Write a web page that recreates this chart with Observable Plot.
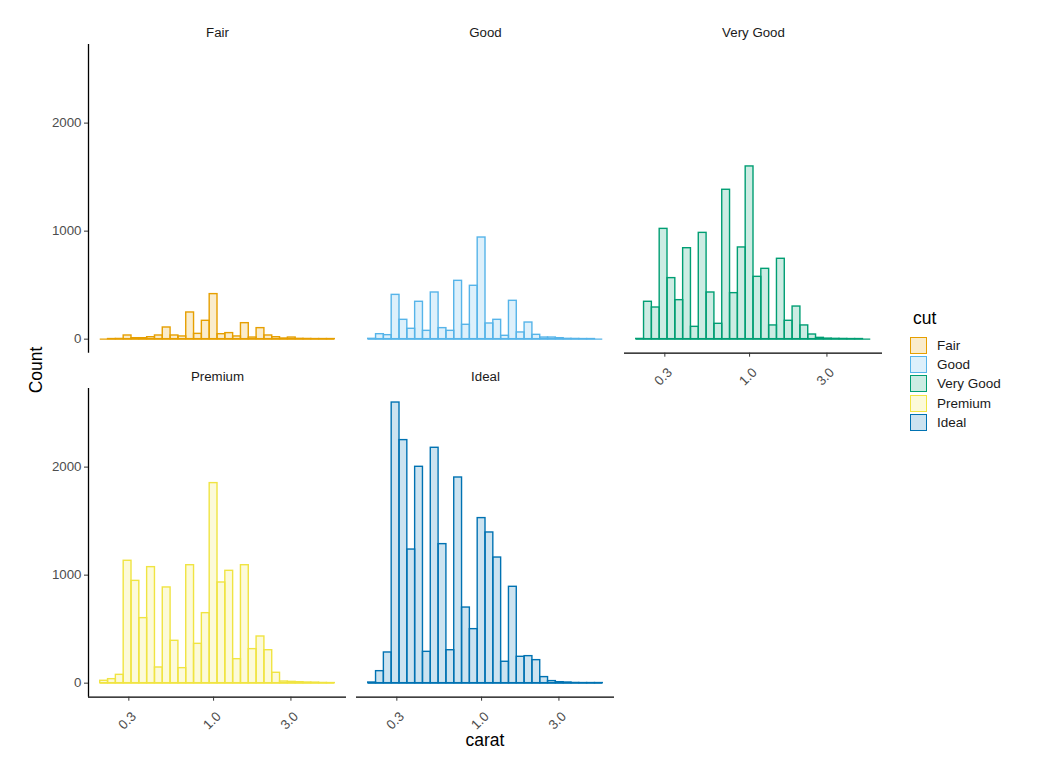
<!DOCTYPE html>
<html><head><meta charset="utf-8">
<script src="https://cdn.jsdelivr.net/npm/d3@7"></script>
<script src="https://cdn.jsdelivr.net/npm/@observablehq/plot@0.6"></script>
<style>
body{margin:0;background:#fff;font-family:"Liberation Sans",Arial,sans-serif;}
#chart{position:relative;width:1041px;height:758px;overflow:hidden;}
.panel{position:absolute;}
.panel svg{overflow:visible;}
.lab{position:absolute;white-space:nowrap;color:#000;line-height:1;}
</style></head><body><div id="chart"></div>
<script>
// categories and colours
const cuts = ["Fair", "Good", "Very Good", "Premium", "Ideal"];
const colors = ["#E69F00", "#56B4E9", "#009E73", "#F0E442", "#0072B2"];
// histogram bins on log10(carat): 30 bins, centres at k * binW, k = -14..15
const binIndex = d3.range(-14, 16);
const binW = (Math.log10(5.01) - Math.log10(0.2)) / 29;
// counts per bin
const fairCounts    = [0,1,2,34,9,9,18,34,108,34,25,247,49,170,417,46,56,25,148,15,102,34,18,6,15,3,2,1,1,1];
const goodCounts    = [3,46,37,410,179,96,346,77,432,102,77,540,133,494,941,145,179,31,355,62,154,40,15,15,9,3,2,1,1,0];
const veryGoodCounts= [2,346,293,1021,565,361,842,114,984,432,142,1383,426,849,1599,577,651,127,744,170,302,127,43,12,5,3,2,1,1,0];
const premiumCounts = [22,37,77,1133,947,602,1074,145,886,392,139,1092,364,648,1852,932,1040,222,1092,315,432,305,96,15,12,9,6,5,2,1];
const idealCounts   = [6,111,284,2598,2250,1237,2003,290,2179,1287,305,1904,700,500,1528,1395,1163,198,892,244,250,213,56,19,9,6,2,1,1,1];
const counts = [fairCounts, goodCounts, veryGoodCounts, premiumCounts, idealCounts];
// tick labels
const xTicks = [0.3, 1, 3];
const xTickLabels = ["0.3", "1.0", "3.0"];
const yTicks = [0, 1000, 2000];

// facet layout: [col, row, showX, showY]
const layout = [[0,0,false,true],[1,0,false,false],[2,0,true,false],[0,1,true,true],[1,1,true,false]];

const lo = -14.5 * binW, hi = 15.5 * binW, pad = (hi - lo) * 0.05;
const xDomain = [10 ** (lo - pad), 10 ** (hi + pad)];
const yMax = d3.max(counts.flat());
const yDomain = [-yMax * 0.05, yMax * 1.05];

const colX = [88, 356.4, 623.7];
const rowY = [44.4, 388.4];
const PW = 258, PH = 308.7;
const ML = 50, MR = 10, MT = 30, MB = 50;
const tickFont = 13.3;

const chart = document.getElementById("chart");

cuts.forEach((cut, i) => {
  const [col, row, showX, showY] = layout[i];
  const data = binIndex.map((k, j) => ({
    x1: 10 ** ((k - 0.5) * binW),
    x2: 10 ** ((k + 0.5) * binW),
    count: counts[i][j]
  }));
  const marks = [
    Plot.ruleY([0], {x1: data[0].x1, x2: data[data.length - 1].x2, stroke: colors[i], strokeWidth: 1.4}),
    Plot.rectY(data, {x1: "x1", x2: "x2", y: "count", fill: colors[i], fillOpacity: 0.2,
      stroke: colors[i], strokeWidth: 1.4}),
    Plot.text([cut], {text: d => d, frameAnchor: "top", lineAnchor: "middle", dy: -12, fontSize: 13.3, fill: "#1a1a1a"})
  ];
  if (showY) {
    marks.push(Plot.ruleX([xDomain[0]], {stroke: "#000", strokeWidth: 1.3}));
    marks.push(Plot.axisY({ticks: yTicks, tickSize: 4, tickPadding: 3, fontSize: tickFont, label: null,
      stroke: "#333", fill: "#4d4d4d", tickFormat: d => String(d)}));
  }
  if (showX) {
    marks.push(Plot.ruleY([yDomain[0]], {stroke: "#000", strokeWidth: 1.3}));
    marks.push(Plot.axisX({ticks: xTicks, tickSize: 4, label: null, stroke: "#333", fill: "none"}));
    marks.push(Plot.axisX({ticks: xTicks, tickSize: 0, tickPadding: 7, tickRotate: -45, fontSize: tickFont,
      label: null, fill: "#4d4d4d", dx: 5, dy: 10,
      tickFormat: d => xTickLabels[xTicks.indexOf(d)]}));
  }
  const svg = Plot.plot({
    width: PW + ML + MR,
    height: PH + MT + MB,
    marginLeft: ML, marginRight: MR, marginTop: MT, marginBottom: MB,
    x: {type: "log", domain: xDomain, axis: null},
    y: {domain: yDomain, axis: null},
    style: {background: "transparent", overflow: "visible", fontFamily: "'Liberation Sans', Arial, sans-serif", fontSize: "13px", color: "#333"},
    marks
  });
  const div = document.createElement("div");
  div.className = "panel";
  div.style.left = (colX[col] - ML) + "px";
  div.style.top = (rowY[row] - MT) + "px";
  div.appendChild(svg);
  chart.appendChild(div);
});

// axis titles
const yt = document.createElement("div");
yt.className = "lab";
yt.textContent = "Count";
yt.style.fontSize = "17.5px";
yt.style.left = "37px"; yt.style.top = "370px";
yt.style.transform = "translate(-50%,-50%) rotate(-90deg)";
chart.appendChild(yt);

const xt = document.createElement("div");
xt.className = "lab";
xt.textContent = "carat";
xt.style.fontSize = "17.5px";
xt.style.left = "485px"; xt.style.top = "741px";
xt.style.transform = "translate(-50%,-50%)";
chart.appendChild(xt);

// legend
const lt = document.createElement("div");
lt.className = "lab";
lt.textContent = "cut";
lt.style.fontSize = "17.5px";
lt.style.left = "913px"; lt.style.top = "310px";
chart.appendChild(lt);
cuts.forEach((cut, i) => {
  const c = d3.color(colors[i]);
  const key = document.createElement("div");
  key.style.position = "absolute";
  key.style.left = "910px";
  key.style.top = (337 + 19.2 * i) + "px";
  key.style.width = "15px"; key.style.height = "15px";
  key.style.border = "1.4px solid " + colors[i];
  key.style.background = `rgba(${c.r},${c.g},${c.b},0.2)`;
  chart.appendChild(key);
  const lab = document.createElement("div");
  lab.className = "lab";
  lab.textContent = cut;
  lab.style.fontSize = "13.5px";
  lab.style.left = "937px";
  lab.style.top = (346 + 19.2 * i) + "px";
  lab.style.transform = "translateY(-50%)";
  lab.style.color = "#1a1a1a";
  chart.appendChild(lab);
});
</script></body></html>
